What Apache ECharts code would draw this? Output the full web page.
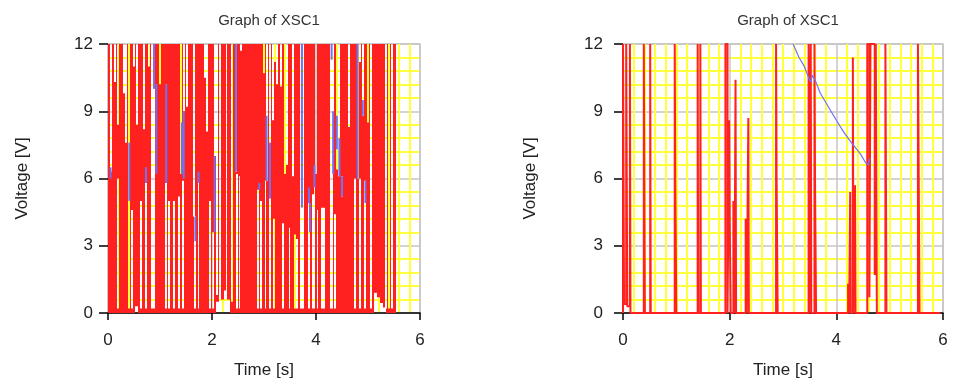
<!DOCTYPE html>
<html>
<head>
<meta charset="utf-8">
<script src="https://cdn.jsdelivr.net/npm/echarts@6/dist/echarts.min.js"></script>
<style>
  html, body { margin: 0; padding: 0; background: #fff; }
  #chart { width: 960px; height: 384px; }
</style>
</head>
<body>
<div id="chart"></div>
<script>
const titles = ['Graph of XSC1', 'Graph of XSC1']
const xTicks = [0, 2, 4, 6]
const yTicks = [0, 3, 6, 9, 12]

// left scope: the red trace is so dense it fills the panel up to leftEnd,
// these are the white gaps in it: [time, from V, to V, width s]
const leftEnd = 5.53
const leftGaps = [
  [0.05, 6.3, 12], [0.13, 10.3, 12], [0.20, 8.4, 12], [0.20, 0.2, 6.0],
  [0.31, 9.8, 12], [0.35, 7.6, 12], [0.41, 0.2, 12], [0.455, 0.2, 4.6],
  [0.50, 11.0, 12], [0.545, 0, 0.3, 0.05], [0.56, 8.4, 12], [0.64, 0.2, 5.0],
  [0.70, 8.2, 12], [0.73, 0.2, 5.8], [0.79, 11.0, 12], [0.86, 0.2, 12, 0.08],
  [0.93, 6.2, 10.2, 0.02], [1.00, 10.2, 12], [1.11, 0.2, 5.8], [1.13, 5.8, 10.2, 0.02],
  [1.17, 0.2, 5.0], [1.27, 0.2, 5.0], [1.36, 0.2, 5.2], [1.41, 6.2, 12],
  [1.44, 0.2, 5.9], [1.46, 9.0, 12], [1.52, 9.2, 12], [1.65, 4.3, 12],
  [1.68, 0.2, 4.3], [1.74, 0.2, 5.8], [1.88, 10.5, 12, 0.05], [1.90, 8.1, 12],
  [1.96, 0.2, 5.0], [2.02, 0.2, 3.6], [2.05, 7.0, 12], [2.09, 0.8, 12],
  [2.10, 0, 0.5, 0.06], [2.15, 0, 0.9, 0.05], [2.16, 0.8, 12], [2.20, 0, 0.6, 0.05],
  [2.26, 0, 1.0, 0.06], [2.28, 0.8, 12], [2.32, 0, 0.6, 0.06], [2.38, 0.5, 12],
  [2.46, 6.3, 12], [2.48, 0.2, 6.2], [2.53, 0.2, 6.1], [2.56, 11.7, 12],
  [2.89, 0.2, 5.5], [2.94, 0.2, 5.0], [3.0, 10.7, 12], [3.03, 0.2, 5.9],
  [3.05, 5.9, 12], [3.115, 0.2, 12], [3.17, 8.6, 12], [3.20, 0.2, 4.2],
  [3.23, 11.2, 12, 0.08], [3.25, 10.2, 12], [3.33, 10.1, 12], [3.37, 0.2, 4.0],
  [3.40, 6.2, 12], [3.45, 6.6, 12], [3.49, 0.2, 3.8], [3.56, 6.1, 12],
  [3.60, 0.2, 3.5], [3.64, 0.2, 3.3], [3.73, 0.2, 12, 0.06], [3.87, 0.2, 4.9],
  [3.95, 0.2, 5.3], [3.97, 0.2, 6.6], [4.0, 6.2, 12], [4.03, 0.2, 4.6],
  [4.11, 0.2, 4.7], [4.16, 0.2, 4.7], [4.30, 0.2, 12, 0.05], [4.33, 6.2, 12],
  [4.36, 0.2, 4.4], [4.40, 6.4, 12], [4.45, 6.1, 12], [4.50, 5.2, 6.1],
  [4.63, 8.3, 12], [4.75, 0.2, 6.0], [4.80, 6.0, 12], [4.85, 0.2, 6.0],
  [4.85, 11.2, 12], [4.90, 8.8, 12], [4.95, 0.2, 5.9], [5.0, 8.5, 12],
  [5.05, 0.2, 12], [5.14, 0, 0.9, 0.06], [5.20, 0, 0.7, 0.06], [5.26, 0, 0.45, 0.06],
  [5.32, 0, 0.25, 0.06], [5.35, 0.2, 12], [5.40, 0.2, 12], [5.46, 0.2, 12]
]
// left scope: bits of the blue trace showing through: [time, from V, to V]
const leftBlue = [
  [0.05, 6.0, 6.5], [0.41, 5.0, 7.6], [0.73, 5.8, 6.5], [0.885, 10.0, 12],
  [0.93, 6.2, 10.2], [1.12, 5.8, 10.2], [1.42, 6.2, 8.5], [1.455, 6.0, 9.0],
  [1.68, 3.2, 4.3], [1.74, 5.8, 6.3], [2.05, 3.6, 7.0], [2.46, 6.3, 12],
  [2.91, 5.5, 5.8], [3.05, 5.9, 8.8], [3.115, 5.1, 7.6], [3.73, 4.7, 12],
  [3.865, 4.9, 5.6], [3.885, 3.6, 4.9], [3.97, 5.6, 6.6], [4.30, 11.3, 12],
  [4.33, 6.2, 9.0], [4.40, 7.3, 8.8], [4.45, 6.1, 7.8], [4.50, 5.2, 6.1],
  [4.80, 6.0, 12], [4.90, 8.8, 9.5], [4.95, 4.9, 5.9]
]

// right scope: red trace [time, V]
const rightRed = [
  [0, 0], [0, 12], [0.02, 12], [0.02, 0.4], [0.06, 0.4], [0.06, 12], [0.08, 12], [0.08, 0.3],
  [0.13, 0.3], [0.13, 12], [0.14, 12], [0.14, 0],
  [0.39, 0], [0.39, 12], [0.41, 12], [0.41, 0],
  [0.51, 0], [0.51, 12], [0.52, 12], [0.52, 0],
  [0.97, 0], [0.97, 12], [0.98, 12], [0.98, 6], [1.0, 6], [1.0, 0],
  [1.40, 0], [1.40, 12], [1.41, 12], [1.41, 0],
  [1.45, 0], [1.45, 12], [1.46, 12], [1.46, 0],
  [1.92, 0], [1.92, 12], [1.96, 12], [1.96, 0],
  [1.99, 0], [1.99, 8.6], [2.0, 8.6], [2.0, 4.2], [2.02, 4.2], [2.02, 0],
  [2.07, 0], [2.07, 5.0], [2.09, 5.0], [2.09, 0], [2.11, 0], [2.11, 10.4], [2.12, 10.4], [2.12, 0],
  [2.30, 0], [2.30, 4.2], [2.32, 4.2], [2.32, 0], [2.35, 0], [2.35, 8.7], [2.36, 8.7], [2.36, 0],
  [2.87, 0], [2.87, 12], [2.88, 12], [2.88, 6], [2.90, 6], [2.90, 0],
  [3.48, 0], [3.48, 12], [3.49, 12], [3.49, 0], [3.52, 0], [3.52, 12], [3.53, 12], [3.53, 0],
  [3.59, 0], [3.59, 12], [3.60, 12], [3.60, 6], [3.62, 6], [3.62, 0],
  [4.22, 0], [4.22, 1.3], [4.24, 1.3], [4.24, 0], [4.26, 0], [4.26, 5.4], [4.27, 5.4], [4.27, 0],
  [4.31, 0], [4.31, 11.4], [4.32, 11.4], [4.32, 0], [4.35, 0], [4.35, 5.7], [4.36, 5.7], [4.36, 0],
  [4.58, 0], [4.58, 12], [4.62, 12], [4.62, 0.7], [4.64, 0.7], [4.64, 12], [4.72, 12],
  [4.72, 1.7], [4.74, 1.7], [4.74, 12], [4.76, 12], [4.76, 0],
  [4.92, 0], [4.92, 12], [4.94, 12], [4.94, 0],
  [5.53, 0], [5.53, 12], [5.56, 12], [5.56, 0],
  [5.95, 0]
]
// right scope: blue trace [time, V]
const rightBlue = [
  [3.19, 12], [3.3, 11.4], [3.4, 11.0], [3.48, 10.5], [3.52, 10.3], [3.55, 10.6], [3.6, 10.4],
  [3.7, 9.8], [3.85, 9.2], [4.0, 8.6], [4.13, 8.1], [4.25, 7.7], [4.35, 7.4], [4.45, 7.1],
  [4.55, 6.7], [4.6, 6.6], [4.63, 6.9]
]

const RED = '#ff2020'
const BLUE = '#7272f0'
const FONT = '"Liberation Sans", Arial, sans-serif'
const yMax = yTicks[yTicks.length - 1]

// red fill = full height minus the gaps, cut at every gap edge
function redBlocks(gaps, end) {
  const segs = gaps.map(([t, lo, hi, w]) => {
    const h = (w || 0.035) / 2
    return [t - h, t + h, lo, hi]
  })
  const edges = [0, end]
  segs.forEach(([a, b]) => {
    if (a > 0 && a < end) edges.push(a)
    if (b > 0 && b < end) edges.push(b)
  })
  edges.sort((p, q) => p - q)
  const out = []
  for (let i = 0; i < edges.length - 1; i++) {
    const a = edges[i], b = edges[i + 1]
    if (b - a < 1e-9) continue
    const m = (a + b) / 2
    const cut = segs.filter(s => s[0] < m && s[1] > m).map(s => [s[2], s[3]]).sort((p, q) => p[0] - q[0])
    let y = 0
    cut.forEach(([lo, hi]) => {
      if (lo > y) out.push([a, b, y, lo])
      y = Math.max(y, hi)
    })
    if (y < yMax) out.push([a, b, y, yMax])
  }
  return out
}

function renderBlock(params, api) {
  const p0 = api.coord([api.value(0), api.value(3)])
  const p1 = api.coord([api.value(1), api.value(2)])
  const x0 = Math.round(p0[0]), x1 = Math.round(p1[0])
  if (x1 <= x0) return null
  return {
    type: 'rect',
    shape: { x: x0, y: p0[1], width: x1 - x0, height: p1[1] - p0[1] },
    style: { fill: RED }
  }
}

function renderBlue(params, api) {
  const p0 = api.coord([api.value(0), api.value(1)])
  const p1 = api.coord([api.value(0), api.value(2)])
  return {
    type: 'line',
    shape: { x1: p0[0], y1: p0[1], x2: p1[0], y2: p1[1] },
    style: { stroke: BLUE, lineWidth: 2 }
  }
}

function xAxis(i) {
  return {
    type: 'value', gridIndex: i,
    min: xTicks[0], max: xTicks[xTicks.length - 1], interval: xTicks[1] - xTicks[0],
    name: 'Time [s]', nameLocation: 'middle', nameGap: 49,
    nameTextStyle: { color: '#222', fontSize: 17, fontFamily: FONT },
    axisLine: { show: true, lineStyle: { color: '#000', width: 1.5 } },
    axisTick: { show: true, length: 7, lineStyle: { color: '#000', width: 1.5 } },
    axisLabel: { color: '#222', fontSize: 17, fontFamily: FONT, margin: 19 },
    splitLine: { show: true, lineStyle: { color: '#c6c6c6', width: 1.5 } },
    minorTick: { show: false, splitNumber: 10 },
    minorSplitLine: { show: true, lineStyle: { color: '#ffff3c', width: 2 } }
  }
}

function yAxis(i, gap, margin) {
  return {
    type: 'value', gridIndex: i,
    min: yTicks[0], max: yMax, interval: yTicks[1] - yTicks[0],
    name: 'Voltage [V]', nameLocation: 'middle', nameGap: gap,
    nameTextStyle: { color: '#222', fontSize: 17, fontFamily: FONT },
    axisLine: { show: false },
    axisTick: { show: true, length: 9, lineStyle: { color: '#000', width: 1.5 } },
    axisLabel: { color: '#222', fontSize: 17, fontFamily: FONT, margin: margin },
    splitLine: { show: true, lineStyle: { color: '#c6c6c6', width: 1.5 } },
    minorTick: { show: false, splitNumber: 5 },
    minorSplitLine: { show: true, lineStyle: { color: '#ffff3c', width: 2 } }
  }
}

const chart = echarts.init(document.getElementById('chart'))
chart.setOption({
  animation: false,
  title: [
    { text: titles[0], left: 264, top: 8, textAlign: 'center',
      textStyle: { color: '#333', fontSize: 15, fontWeight: 'normal', fontFamily: FONT } },
    { text: titles[1], left: 783, top: 8, textAlign: 'center',
      textStyle: { color: '#333', fontSize: 15, fontWeight: 'normal', fontFamily: FONT } }
  ],
  grid: [
    { left: 108, right: 540, top: 44, bottom: 71, show: true, backgroundColor: '#fff', borderColor: '#c6c6c6', borderWidth: 1.5 },
    { left: 623, right: 17, top: 44, bottom: 71, show: true, backgroundColor: '#fff', borderColor: '#c6c6c6', borderWidth: 1.5 }
  ],
  xAxis: [xAxis(0), xAxis(1)],
  yAxis: [yAxis(0, 77, 15), yAxis(1, 84, 20)],
  series: [
    {
      type: 'custom', xAxisIndex: 0, yAxisIndex: 0, silent: true, z: 3,
      encode: { x: [0, 1], y: [2, 3] },
      renderItem: renderBlock,
      data: redBlocks(leftGaps, leftEnd)
    },
    {
      type: 'custom', xAxisIndex: 0, yAxisIndex: 0, silent: true, z: 4,
      encode: { x: 0, y: [1, 2] },
      renderItem: renderBlue,
      data: leftBlue
    },
    {
      type: 'line', xAxisIndex: 1, yAxisIndex: 1, silent: true, z: 3,
      showSymbol: false, symbol: 'none',
      lineStyle: { color: RED, width: 2 },
      data: rightRed
    },
    {
      type: 'line', xAxisIndex: 1, yAxisIndex: 1, silent: true, z: 4,
      showSymbol: false, symbol: 'none',
      lineStyle: { color: BLUE, width: 1.2 },
      data: rightBlue
    }
  ]
})
</script>
</body>
</html>
